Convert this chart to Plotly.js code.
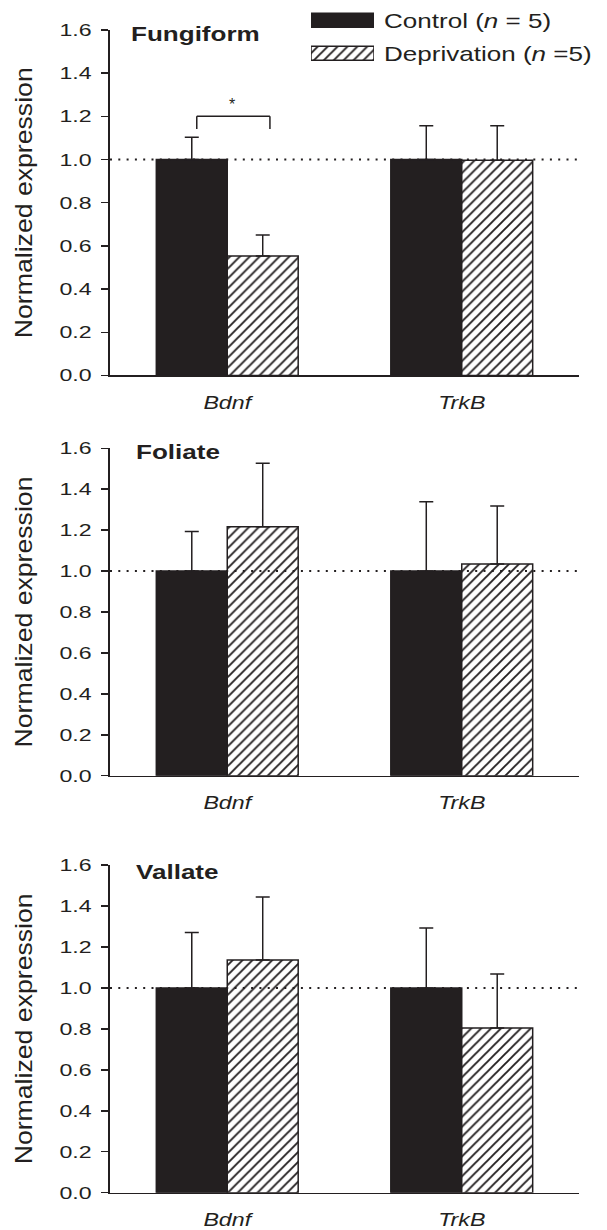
<!DOCTYPE html>
<html>
<head>
<meta charset="utf-8">
<script src="https://cdn.plot.ly/plotly-3.0.1.min.js"></script>
<style>
  html, body { margin: 0; padding: 0; background: #ffffff; }
  #chart { width: 607px; height: 1230px; }
</style>
</head>
<body>
<div id="chart"></div>
<script>
// ---------- data ----------
const genes = ['Bdnf', 'TrkB'];
const panelNames = ['Fungiform', 'Foliate', 'Vallate'];
const seriesNames = ['Control (<i>n</i> = 5)', 'Deprivation (<i>n</i> =5)'];

const fungiformControl = [1.00, 1.00];
const fungiformControlSE = [0.103, 0.156];
const fungiformDeprivation = [0.553, 0.997];
const fungiformDeprivationSE = [0.098, 0.160];

const foliateControl = [1.00, 1.00];
const foliateControlSE = [0.193, 0.339];
const foliateDeprivation = [1.217, 1.035];
const foliateDeprivationSE = [0.310, 0.283];

const vallateControl = [1.00, 1.00];
const vallateControlSE = [0.270, 0.292];
const vallateDeprivation = [1.136, 0.804];
const vallateDeprivationSE = [0.308, 0.264];

const yTickValues = [0, 0.2, 0.4, 0.6, 0.8, 1.0, 1.2, 1.4, 1.6];
const referenceLevel = 1.0;
const significanceLabel = '*';

// ---------- styling ----------
const INK = '#231f20';
const FONT = 'Liberation Sans, Arial, Helvetica, sans-serif';
const HATCH = {shape: '/', fgcolor: INK, bgcolor: '#ffffff', size: 7, solidity: 0.27, fillmode: 'replace'};

const controlSets = [fungiformControl, foliateControl, vallateControl];
const controlErr = [fungiformControlSE, foliateControlSE, vallateControlSE];
const deprSets = [fungiformDeprivation, foliateDeprivation, vallateDeprivation];
const deprErr = [fungiformDeprivationSE, foliateDeprivationSE, vallateDeprivationSE];

const domains = [[0.69472, 0.97561], [0.36935, 0.63553], [0.03033, 0.29675]];
const titlePos = [[0.041, 1.586], [0.051, 1.584], [0.051, 1.567]];

const traces = [];
const layout = {
  width: 607, height: 1230,
  margin: {l: 110, r: 28, t: 0, b: 0},
  paper_bgcolor: '#ffffff', plot_bgcolor: '#ffffff',
  barmode: 'group', bargap: 0.395, bargroupgap: 0,
  showlegend: false,
  font: {family: FONT, color: INK},
  shapes: [], annotations: []
};

for (let p = 0; p < 3; p++) {
  const sfx = p === 0 ? '' : String(p + 1);
  const xa = 'x' + sfx, ya = 'y' + sfx;
  traces.push({
    type: 'bar', x: genes, y: controlSets[p], xaxis: xa, yaxis: ya,
    name: seriesNames[0],
    marker: {color: INK, line: {color: INK, width: 1.5}},
    error_y: {type: 'data', symmetric: false, array: controlErr[p], arrayminus: controlErr[p].map(() => 0),
              color: INK, thickness: 1.5, width: 7},
    hoverinfo: 'skip'
  });
  traces.push({
    type: 'bar', x: genes, y: deprSets[p], xaxis: xa, yaxis: ya,
    name: seriesNames[1],
    marker: {color: '#ffffff', line: {color: INK, width: 1.5}, pattern: HATCH},
    error_y: {type: 'data', symmetric: false, array: deprErr[p], arrayminus: deprErr[p].map(() => 0),
              color: INK, thickness: 1.5, width: 7},
    hoverinfo: 'skip'
  });

  layout['xaxis' + sfx] = {
    anchor: ya, domain: [0, 1], type: 'category', range: [-0.5, 1.5],
    showline: true, linecolor: INK, linewidth: 1.5, ticks: '', showgrid: false, zeroline: false,
    tickfont: {size: 19, style: 'italic', color: INK, family: FONT}, ticklabelstandoff: 9,
    fixedrange: true
  };
  layout['yaxis' + sfx] = {
    anchor: xa, domain: domains[p], range: [0, 1.6],
    tickmode: 'array', tickvals: yTickValues, tickformat: '.1f',
    ticks: 'outside', ticklen: 7, tickwidth: 1.5, tickcolor: INK,
    showline: true, linecolor: INK, linewidth: 2, showgrid: false, zeroline: false,
    tickfont: {size: 17, color: INK, family: FONT}, ticklabelstandoff: 6,
    title: {text: 'Normalized expression', font: {size: 24, color: INK, family: FONT}, standoff: 29},
    fixedrange: true
  };

  // reference dotted line at 1.0
  layout.shapes.push({
    type: 'line', xref: xa + ' domain', x0: 0, x1: 1, yref: ya, y0: referenceLevel, y1: referenceLevel,
    line: {color: INK, width: 2, dash: '2px,6.3px'}, layer: 'above'
  });

  // panel title
  layout.annotations.push({
    xref: xa + ' domain', yref: ya, x: titlePos[p][0], y: titlePos[p][1],
    xanchor: 'left', yanchor: 'middle', align: 'left', showarrow: false,
    text: '<b>' + panelNames[p] + '</b>', font: {size: 21, color: INK, family: FONT}
  });
}

// significance bracket (Fungiform, Bdnf)
const br = {x0: -0.130, x1: 0.182, yTop: 1.201, yLeg: 1.142};
[[br.x0, br.yLeg, br.x0, br.yTop], [br.x0, br.yTop, br.x1, br.yTop], [br.x1, br.yTop, br.x1, br.yLeg]]
  .forEach(s => layout.shapes.push({type: 'line', xref: 'x', yref: 'y', x0: s[0], y0: s[1], x1: s[2], y1: s[3],
                                    line: {color: INK, width: 1.5}}));
layout.annotations.push({xref: 'x', yref: 'y', x: 0.0215, y: 1.253, text: significanceLabel, showarrow: false,
                         font: {size: 16, color: INK, family: FONT}, xanchor: 'center', yanchor: 'middle'});

// legend drawn as a tiny bar chart so the swatches are real hatched bars
const legendCats = [seriesNames[1], seriesNames[0]];
traces.push({
  type: 'bar', orientation: 'h', y: [legendCats[1]], x: [1], width: 0.42, offset: -0.21,
  xaxis: 'x4', yaxis: 'y4', marker: {color: INK, line: {color: INK, width: 1.5}}, hoverinfo: 'skip'
});
traces.push({
  type: 'bar', orientation: 'h', y: [legendCats[0]], x: [1], width: 0.42, offset: -0.21,
  xaxis: 'x4', yaxis: 'y4', marker: {color: '#ffffff', line: {color: INK, width: 1.5}, pattern: HATCH},
  hoverinfo: 'skip'
});
layout.xaxis4 = {anchor: 'y4', domain: [0.4286, 0.5629], range: [0, 1], visible: false, fixedrange: true};
layout.yaxis4 = {anchor: 'x4', domain: [0.94325, 0.99691], side: 'right', type: 'category',
                 categoryorder: 'array', categoryarray: legendCats, range: [-0.5, 1.5],
                 showline: false, ticks: '', showgrid: false, zeroline: false,
                 tickfont: {size: 21, color: INK, family: FONT}, ticklabelstandoff: 9, fixedrange: true};

// the reference typeface is set wide; widen glyphs to match
function widen() {
  document.querySelectorAll('#chart svg text').forEach(t => {
    const fs = parseFloat(t.style.fontSize || getComputedStyle(t).fontSize);
    let f = 1;
    if (Math.abs(fs - 17) < 0.5) f = 1.36;
    else if (Math.abs(fs - 19) < 0.5) f = 1.22;
    else if (Math.abs(fs - 21) < 0.5) f = 1.24;
    else if (Math.abs(fs - 24) < 0.5) f = 1.11;
    if (f !== 1 && t.getComputedTextLength) {
      const L = t.getComputedTextLength();
      if (L > 0) { t.setAttribute('textLength', (L * f).toFixed(2)); t.setAttribute('lengthAdjust', 'spacingAndGlyphs'); }
    }
  });
}

Plotly.newPlot('chart', traces, layout, {staticPlot: true, displayModeBar: false}).then(widen);
</script>
</body>
</html>
